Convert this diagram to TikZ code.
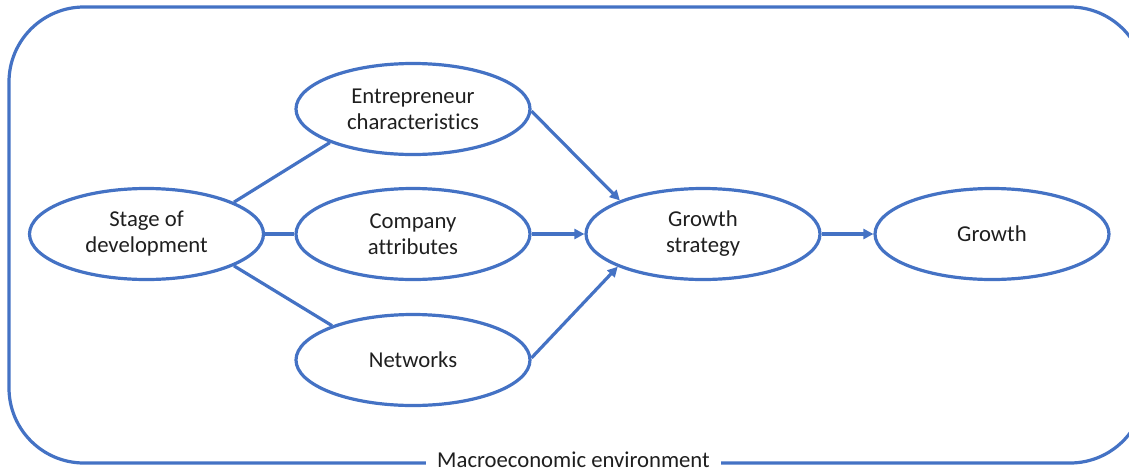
\documentclass[tikz,border=0pt]{standalone}
\usepackage{fontspec}
\setmainfont{Carlito}[Ligatures={NoCommon}]
\usetikzlibrary{shapes.geometric,arrows.meta}
\definecolor{diagblue}{HTML}{4472C4}
\definecolor{txt}{HTML}{1F1F1F}
\begin{document}
\begin{tikzpicture}[x=1pt,y=-1pt,
  oval/.style={ellipse,draw=diagblue,line width=3.2pt,minimum width=234pt,minimum height=91pt,inner sep=0pt,align=center,text=txt,font=\fontsize{22.7}{26}\selectfont},
  link/.style={draw=diagblue,line width=3.2pt},
  arr/.style={link,-{Triangle[length=10pt,width=10pt]}}]
\useasboundingbox (0,0) rectangle (1129,472);
\begin{scope}
\clip (0,0) rectangle (1129,472);
\draw[diagblue,line width=3.2pt,rounded corners=75pt] (9,7) rectangle (1145,463);
\end{scope}
\node[anchor=base,fill=white,inner xsep=11pt,inner ysep=0.5pt,text=txt,font=\fontsize{22.7}{26}\selectfont] (env) at (573.5,467) {Macroeconomic environment};
\node[oval] (stage) at (146.5,234) {Stage of\\development};
\node[oval] (ent) at (413,109) {Entrepreneur\\characteristics};
\node[oval] (comp) at (413,234) {Company\\attributes};
\node[oval] (net) at (413,360) {Networks};
\node[oval] (gs) at (703,234) {Growth\\strategy};
\node[oval] (gr) at (992,234) {Growth};
\draw[link] (stage.20.5) -- (ent.202.3);
\draw[link] (stage.east) -- (comp.west);
\draw[link] (stage.-20.5) -- (net.157.7);
\draw[arr] (ent.-1) -- (gs.158.2);
\draw[arr] (comp.east) -- (gs.west);
\draw[arr] (net.1) -- (gs.201.8);
\draw[arr] (gs.east) -- (gr.west);
\end{tikzpicture}
\end{document}
